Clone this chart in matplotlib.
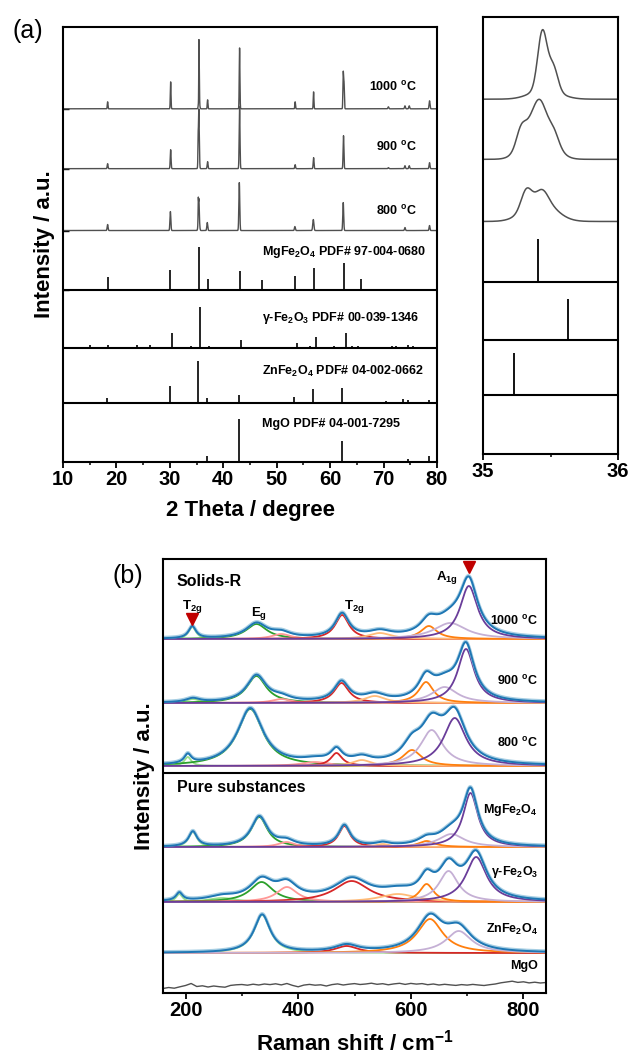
import numpy as np
import matplotlib
matplotlib.use('Agg')
import matplotlib.pyplot as plt
from matplotlib.ticker import MultipleLocator

plt.rcParams['font.family'] = ['Liberation Sans', 'DejaVu Sans']
plt.rcParams['font.weight'] = 'bold'
plt.rcParams['axes.labelweight'] = 'bold'
plt.rcParams['mathtext.fontset'] = 'custom'
plt.rcParams['mathtext.rm'] = 'Liberation Sans:bold'
plt.rcParams['mathtext.it'] = 'Liberation Sans:bold'
plt.rcParams['mathtext.bf'] = 'Liberation Sans:bold'
plt.rcParams['mathtext.default'] = 'rm'

# ---------------- XRD data (2theta, height, fwhm) ----------------
xrd_labels = ['1000 $^{o}$C', '900 $^{o}$C', '800 $^{o}$C']

xrd1000_pos = [18.35, 30.15, 35.44, 35.52, 35.46, 37.06, 43.05, 53.45, 56.9, 62.45, 62.6, 70.9, 74.0, 74.8, 78.6]
xrd1000_h = [7, 27, 58, 24, 10, 9, 61, 7, 17, 36, 25, 2, 3, 3, 8]
xrd1000_w = [0.15, 0.15, 0.08, 0.08, 0.25, 0.15, 0.15, 0.15, 0.15, 0.15, 0.15, 0.2, 0.2, 0.2, 0.2]

xrd900_pos = [18.35, 30.15, 35.28, 35.41, 35.42, 35.53, 37.06, 43.05, 53.45, 56.9, 62.5, 70.9, 74.0, 74.8, 78.6]
xrd900_h = [5, 19, 15, 50, 10, 8, 7, 62, 4, 11, 33, 1, 3, 3, 6]
xrd900_w = [0.18, 0.18, 0.08, 0.22, 0.09, 0.08, 0.18, 0.18, 0.18, 0.18, 0.18, 0.2, 0.2, 0.2, 0.2]

xrd800_pos = [18.35, 30.1, 35.32, 35.42, 35.44, 37.0, 43.0, 53.4, 56.85, 62.45, 74.0, 78.6]
xrd800_h = [6, 19, 18, 22, 10, 8, 48, 4, 11, 28, 3, 5]
xrd800_w = [0.2, 0.2, 0.09, 0.26, 0.1, 0.2, 0.2, 0.2, 0.25, 0.2, 0.2, 0.2]

# reference cards (stick patterns)
ref_labels = ['MgFe$_2$O$_4$ PDF# 97-004-0680', 'γ-Fe$_2$O$_3$ PDF# 00-039-1346',
              'ZnFe$_2$O$_4$ PDF# 04-002-0662', 'MgO PDF# 04-001-7295']
mgfe_pos = [18.35, 30.1, 35.41, 37.1, 43.1, 47.2, 53.5, 56.95, 62.55, 65.7]
mgfe_h = [13, 20, 43, 11, 19, 10, 14, 22, 27, 11]
gfe_pos = [15.0, 18.5, 23.8, 26.2, 30.4, 32.3, 33.9, 35.63, 37.4, 39.1, 40.5, 43.4, 44.9, 50.1, 53.8,
           55.1, 56.2, 57.3, 59.8, 60.7, 63.05, 64.1, 65.2, 68.5, 69.4, 71.5, 72.4, 74.6, 75.5, 79.6]
gfe_h = [3, 3, 3, 3, 15, 1, 2, 41, 2, 1, 1, 8, 1, 1, 5,
         1, 2, 11, 1, 2, 15, 2, 2, 1, 1, 2, 2, 3, 2, 1]
znfe_pos = [18.3, 30.0, 35.23, 37.0, 42.9, 47.0, 53.2, 56.7, 62.2, 65.5, 66.6, 70.5, 73.7, 74.6, 78.5]
znfe_h = [5, 17, 42, 5, 8, 1, 6, 14, 15, 1, 1, 2, 4, 3, 3]
mgo_pos = [36.9, 42.9, 62.2, 74.6, 78.5]
mgo_h = [6, 43, 21, 3, 6]

# ---------------- Raman data (centre, amplitude, fwhm) ----------------
# component order: T2g(1), broad, Eg, Eg', T2g(2), T2g(2)', T2g(3), A1g', A1g
r_labels = ['1000 $^{o}$C', '900 $^{o}$C', '800 $^{o}$C', 'MgFe$_2$O$_4$', 'γ-Fe$_2$O$_3$', 'ZnFe$_2$O$_4$']

r1000_pos = [212, 260, 326, 370, 478, 545, 632, 670, 703]
r1000_amp = [12, 0, 15, 5, 24, 6, 13, 16, 53]
r1000_fwhm = [16, 60, 45, 40, 30, 50, 35, 70, 38]

r900_pos = [213, 260, 326, 370, 477, 536, 627, 660, 698]
r900_amp = [4, 0, 27, 4, 20, 7, 21, 16, 54]
r900_fwhm = [30, 60, 42, 40, 32, 45, 32, 55, 36]

r800_pos = [204, 260, 315, 430, 468, 513, 602, 637, 678]
r800_amp = [9, 0, 57, 4, 13, 6, 16, 36, 48]
r800_fwhm = [15, 60, 55, 60, 25, 40, 40, 48, 48]

rmg_pos = [213, 260, 331, 379, 482, 550, 628, 672, 706]
rmg_amp = [15, 0, 30, 5, 21, 3, 6, 13, 54]
rmg_fwhm = [18, 60, 35, 35, 25, 30, 35, 55, 32]

rgfe_pos = [189, 265, 335, 380, 495, 577, 628, 667, 716]
rgfe_amp = [8, 4, 20, 15, 21, 8, 18, 31, 45]
rgfe_fwhm = [14, 60, 50, 45, 75, 80, 30, 42, 45]

rzn_pos = [336, 260, 330, 380, 486, 550, 634, 685, 710]
rzn_amp = [38, 0, 0, 0, 7, 0, 34, 22, 0]
rzn_fwhm = [35, 60, 40, 40, 50, 40, 55, 55, 40]

# MgO spectrum (flat, noisy) sampled every 10 cm-1 from 160 to 840
mgo_raman = [4.5, 5.5, 4.8, 6.2, 7.5, 9.5, 6.5, 7.2, 6.0, 7.0,
             6.3, 5.8, 7.6, 8.2, 8.5, 7.8, 8.8, 8.0, 9.0, 8.4,
             9.2, 8.1, 9.5, 7.6, 6.2, 7.9, 8.6, 7.8, 8.2, 7.0,
             8.4, 9.1, 8.0, 8.8, 9.4, 8.5, 9.0, 9.8, 8.7, 9.3,
             8.2, 9.1, 9.7, 8.6, 9.6, 8.9, 9.4, 8.3, 9.0, 8.0,
             8.7, 8.1, 7.6, 8.4, 7.9, 8.6, 8.0, 7.5, 8.3, 9.0,
             10.2, 11.0, 11.8, 10.6, 11.2, 10.1, 10.8, 10.0, 10.5]


def gauss(x, pos, h, w):
    y = np.zeros_like(x)
    for c, a, f in zip(pos, h, w):
        y += a * np.exp(-4 * np.log(2) * ((x - c) / f) ** 2)
    return y


def lorentz(x, c, a, f):
    return a / (1 + ((x - c) / (f / 2)) ** 2)


fig = plt.figure(figsize=(6.3, 10.54), dpi=100)

# ---------------- panel (a) ----------------
ax_a = fig.add_axes([63 / 630, 1 - 462 / 1054, 374 / 630, 435 / 1054])
ax_r = fig.add_axes([483 / 630, 1 - 454 / 1054, 135 / 630, 437 / 1054])

tt = np.arange(10, 80.0001, 0.005)
xrd_sets = [(xrd1000_pos, xrd1000_h, xrd1000_w), (xrd900_pos, xrd900_h, xrd900_w),
            (xrd800_pos, xrd800_h, xrd800_w)]
stick_sets = [(mgfe_pos, mgfe_h), (gfe_pos, gfe_h), (znfe_pos, znfe_h), (mgo_pos, mgo_h)]
xrd_off = [354, 294, 232]
ref_off = [172, 114, 59, 0]

for ax, lw in [(ax_a, 1.0), (ax_r, 1.1)]:
    for (p, h, w), off in zip(xrd_sets, xrd_off):
        ax.plot(tt, off + gauss(tt, p, h, w), color='#505050', lw=lw)
    for (p, h), off in zip(stick_sets, ref_off):
        ax.vlines(p, off, off + np.array(h), color='black', lw=lw + 0.2)
    for off in ref_off[:3]:
        ax.axhline(off, color='black', lw=1.5)
    ax.set_ylim(0, 436)
    for s in ax.spines.values():
        s.set_linewidth(1.5)

lab_dy = [22, 22, 20]
for lab, off, dy in zip(xrd_labels, xrd_off, lab_dy):
    ax_a.text(76.3, off + dy, lab, ha='right', va='center', fontsize=9)
ref_dy = [38, 30, 32, 38]
for lab, off, dy in zip(ref_labels, ref_off, ref_dy):
    ax_a.text(47.2, off + dy, lab, ha='left', va='center', fontsize=9)

ax_a.set_xlim(10, 80)
ax_a.xaxis.set_major_locator(MultipleLocator(10))
ax_a.xaxis.set_minor_locator(MultipleLocator(5))
ax_a.set_yticks([354, 294, 232, 172])
ax_a.tick_params(axis='y', direction='in', length=4, width=1.0, labelleft=False)
ax_a.tick_params(axis='x', which='major', direction='out', length=4, width=1.3, labelsize=14.5, pad=2)
ax_a.tick_params(axis='x', which='minor', direction='out', length=2.5, width=1.1)
ax_a.set_xlabel('2 Theta / degree', fontsize=16, labelpad=8)
ax_a.set_ylabel('Intensity / a.u.', fontsize=16, labelpad=6)

ax_r.set_xlim(35, 36)
ax_r.set_xticks([35, 36])
ax_r.set_xticklabels(['35', '36'])
ax_r.xaxis.set_minor_locator(MultipleLocator(0.5))
ax_r.set_yticks([])
ax_r.tick_params(axis='x', which='major', direction='out', length=4, width=1.3, labelsize=14.5, pad=2)
ax_r.tick_params(axis='x', which='minor', direction='out', length=2.5, width=1.1)

fig.text(12 / 630, 1 - 31 / 1054, '(a)', fontsize=18, fontweight='normal', va='center')

# ---------------- panel (b) ----------------
ax_b = fig.add_axes([163 / 630, 1 - 993 / 1054, 383 / 630, 434 / 1054])
xr = np.arange(160, 840.1, 1.0)
comp_colors = ['#98df8a', '#98df8a', '#2ca02c', '#ff9896', '#d62728', '#ffbb78', '#ff7f0e', '#c5b0d5', '#6a3d9a']
raman_sets = [(r1000_pos, r1000_amp, r1000_fwhm), (r900_pos, r900_amp, r900_fwhm),
              (r800_pos, r800_amp, r800_fwhm), (rmg_pos, rmg_amp, rmg_fwhm),
              (rgfe_pos, rgfe_amp, rgfe_fwhm), (rzn_pos, rzn_amp, rzn_fwhm)]
r_off = [354, 290, 227, 146, 91, 40]
r_dy = [18, 22, 23, 37, 30, 24]

for (p, a, f), off, lab, dy in zip(raman_sets, r_off, r_labels, r_dy):
    total = np.zeros_like(xr)
    for c, amp, fw, col in zip(p, a, f, comp_colors):
        if amp == 0:
            continue
        y = lorentz(xr, c, amp, fw)
        total += y
        ax_b.plot(xr, off + y, color=col, lw=1.3)
    ax_b.plot(xr, off + total + 0.8, color='#a6cee3', lw=2.2)
    ax_b.plot(xr, off + total, color='#1f77b4', lw=1.4)
    ax_b.text(826, off + dy, lab, ha='right', va='center', fontsize=9)

ax_b.plot(np.arange(160, 841, 10), mgo_raman, color='#505050', lw=1.0)
ax_b.text(826, 27, 'MgO', ha='right', va='center', fontsize=9)
ax_b.axhline(220, color='black', lw=1.5)

ax_b.text(184, 412, 'Solids-R', ha='left', va='center', fontsize=11.5)
ax_b.text(184, 205, 'Pure substances', ha='left', va='center', fontsize=11.5)
ax_b.text(r1000_pos[0], 387, 'T$_{2g}$', ha='center', va='center', fontsize=9.5)
ax_b.text(330, 380, 'E$_{g}$', ha='center', va='center', fontsize=9.5)
ax_b.text(499, 387, 'T$_{2g}$', ha='center', va='center', fontsize=9.5)
ax_b.text(665, 416, 'A$_{1g}$', ha='center', va='center', fontsize=9.5)
ax_b.plot([r1000_pos[0], r1000_pos[8]], [374, 426], 'v', color='#c00000', markersize=9)

ax_b.set_xlim(160, 840)
ax_b.set_ylim(0, 434)
ax_b.set_yticks([])
ax_b.xaxis.set_major_locator(MultipleLocator(200))
ax_b.xaxis.set_minor_locator(MultipleLocator(100))
ax_b.tick_params(axis='x', which='major', direction='out', length=4, width=1.3, labelsize=14.5, pad=2)
ax_b.tick_params(axis='x', which='minor', direction='out', length=2.5, width=1.1)
for s in ax_b.spines.values():
    s.set_linewidth(1.5)
ax_b.set_xlabel('Raman shift / cm$^{-1}$', fontsize=16, labelpad=7)
ax_b.set_ylabel('Intensity / a.u.', fontsize=16, labelpad=6)

fig.text(113 / 630, 1 - 576 / 1054, '(b)', fontsize=18, fontweight='normal', va='center')

fig.savefig('out.png', dpi=100)
